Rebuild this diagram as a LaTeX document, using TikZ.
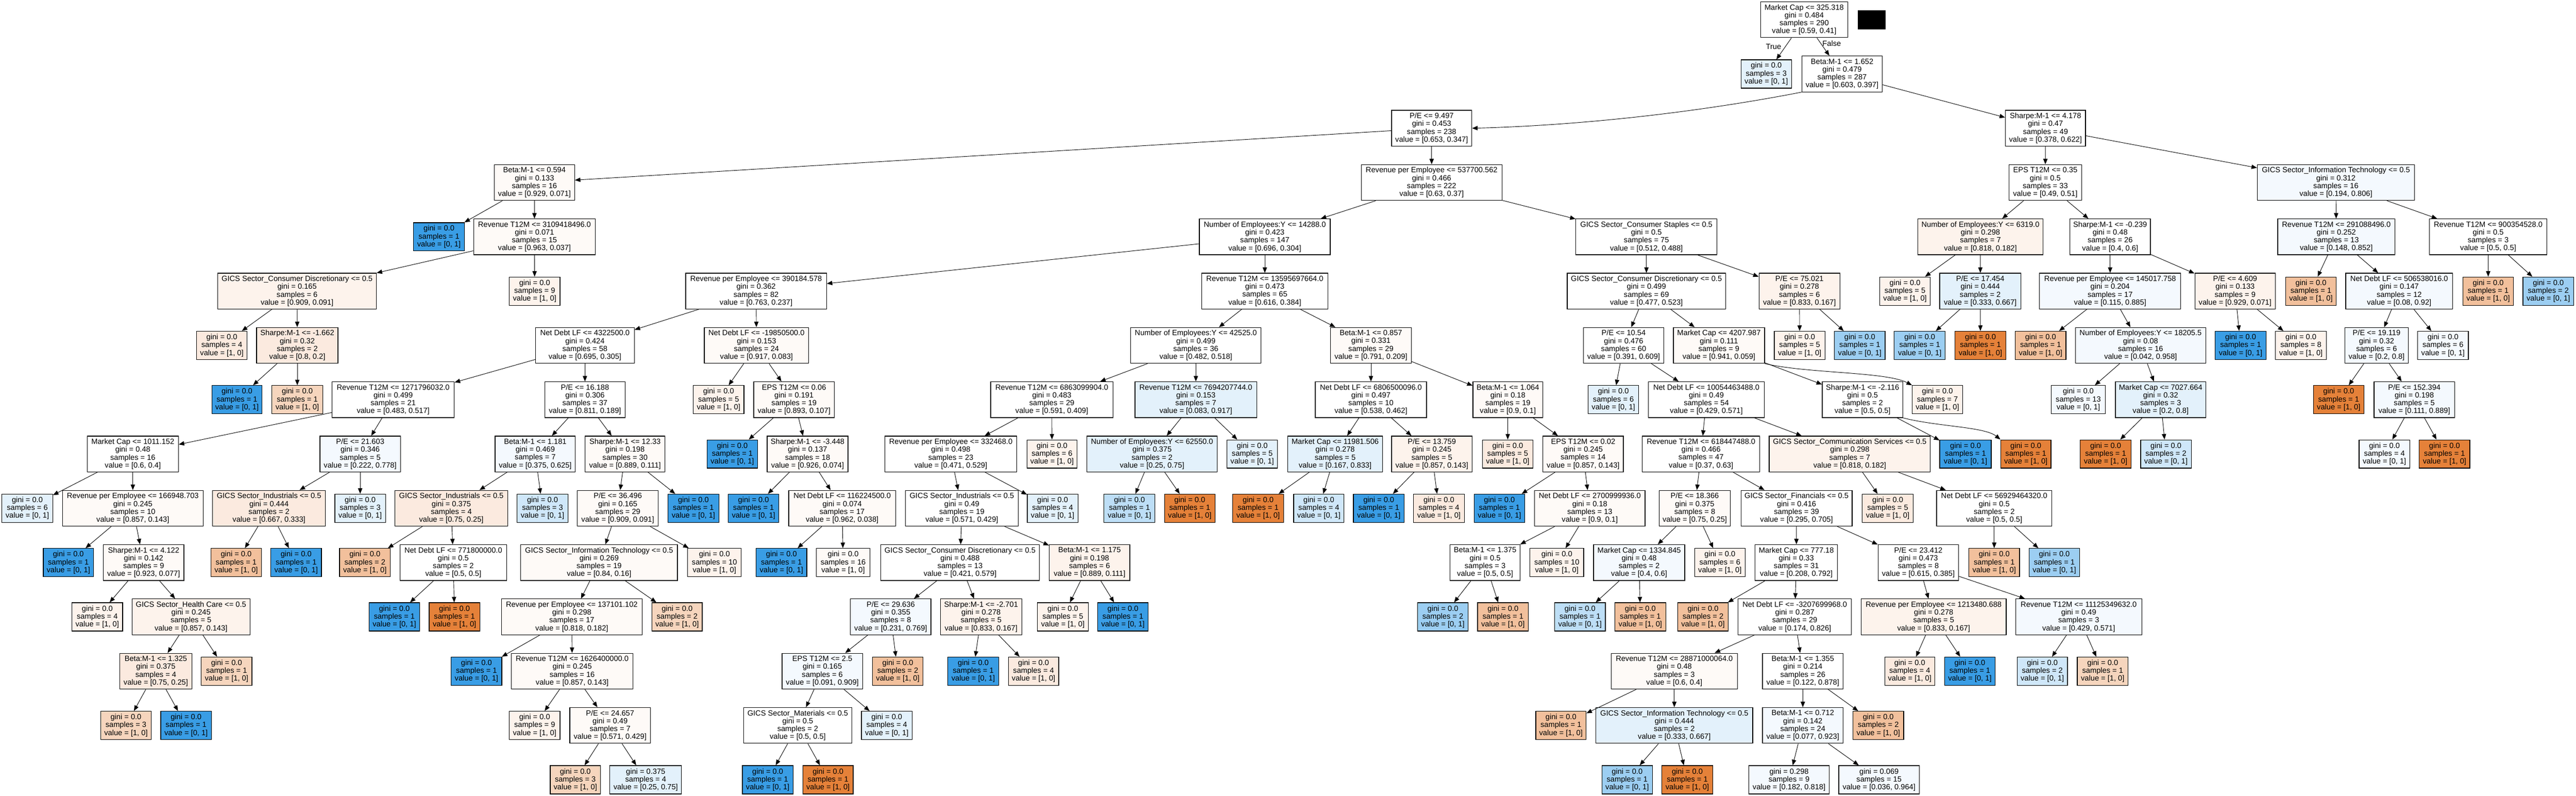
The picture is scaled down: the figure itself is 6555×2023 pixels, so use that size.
\documentclass[tikz,border=0pt]{standalone}
\usepackage{fontspec}
\setmainfont{Liberation Sans}
\usetikzlibrary{arrows.meta}
\definecolor{cw}{HTML}{FFFFFF}
\definecolor{co1}{HTML}{FEFAF7}
\definecolor{co2}{HTML}{FDF3EC}
\definecolor{co3}{HTML}{FBEADF}
\definecolor{co4}{HTML}{F6D5BD}
\definecolor{co5}{HTML}{F2C09C}
\definecolor{co6}{HTML}{E58139}
\definecolor{cb1}{HTML}{F4F9FE}
\definecolor{cb2}{HTML}{E3F1FB}
\definecolor{cb3}{HTML}{CFE7F9}
\definecolor{cb3b}{HTML}{BDDEF6}
\definecolor{cb4}{HTML}{9CCEF2}
\definecolor{cb5}{HTML}{399DE5}
\tikzset{
  tbox/.style={draw=black, line width=0.8pt, rectangle, align=center, inner xsep=3pt, inner ysep=0pt, font=\fontsize{9.6}{10}\selectfont},
  tinner/.style={tbox, minimum height=45.5pt},
  tleaf/.style={tbox, minimum height=36pt},
  tconn/.style={draw=black, line width=0.6pt, -{Triangle[length=7pt,width=5.5pt]}},
  tlabel/.style={font=\fontsize{9.6}{10}\selectfont, inner sep=0pt}
}
\newcommand\TNode[9]{\node[tinner,fill=#5,minimum width={#4*0.5pt}] (#1) at (#2,{50+138.06*#3}) {#6\\gini = #7\\samples = #8\\value = [#9]};}
\newcommand\TLeaf[8]{\node[tleaf,fill=#5,minimum width={#4*0.5pt}] (#1) at (#2,{50+138.06*#3}) {gini = #6\\samples = #7\\value = [#8]};}
\begin{document}
\begin{tikzpicture}[x=0.5pt,y=-0.5pt]
\useasboundingbox (0,0) rectangle (6555,2023);
\fill[white] (0,0) rectangle (6555,2023);
% level 0
\TNode{n0}{4591}{0}{222}{cw}{Market Cap <= 325.318}{0.484}{290}{0.59, 0.41}
\node[fill=black, inner sep=0pt, minimum width=35.5pt, minimum height=24.5pt] (redact) at (4762.5,50.5) {};
% level 1
\TLeaf{n1}{4494.5}{1}{129}{cb2}{0.0}{3}{0, 1}
\TNode{n2}{4687.5}{1}{205}{cw}{Beta:M-1 <= 1.652}{0.479}{287}{0.603, 0.397}
\node[tlabel] (lblTrue) at (4513,119) {True};
\node[tlabel] (lblFalse) at (4661,110) {False};
% level 2
\TNode{n3}{3643}{2}{204}{cw}{P/E <= 9.497}{0.453}{238}{0.653, 0.347}
\TNode{n4}{5205}{2}{204}{cw}{Sharpe:M-1 <= 4.178}{0.47}{49}{0.378, 0.622}
% level 3
\TNode{n5}{1360}{3}{204}{co1}{Beta:M-1 <= 0.594}{0.133}{16}{0.929, 0.071}
\TNode{n6}{3643}{3}{358}{cw}{Revenue per Employee <= 537700.562}{0.466}{222}{0.63, 0.37}
\TNode{n7}{5204.5}{3}{185}{cw}{EPS T12M <= 0.35}{0.5}{33}{0.49, 0.51}
\TNode{n8}{5944}{3}{400}{cb1}{GICS Sector\_Information Technology <= 0.5}{0.312}{16}{0.194, 0.806}
% level 4
\TLeaf{n9}{1117}{4}{130}{cb5}{0.0}{1}{0, 1}
\TNode{n10}{1360}{4}{310}{co1}{Revenue T12M <= 3109418496.0}{0.071}{15}{0.963, 0.037}
\TNode{n11}{3218.5}{4}{333}{cw}{Number of Employees:Y <= 14288.0}{0.423}{147}{0.696, 0.304}
\TNode{n12}{4189.5}{4}{359}{cw}{GICS Sector\_Consumer Staples <= 0.5}{0.5}{75}{0.512, 0.488}
\TNode{n13}{5039.5}{4}{319}{co2}{Number of Employees:Y <= 6319.0}{0.298}{7}{0.818, 0.182}
\TNode{n14}{5369.5}{4}{205}{cw}{Sharpe:M-1 <= -0.239}{0.48}{26}{0.4, 0.6}
\TNode{n15}{5945}{4}{298}{cb1}{Revenue T12M <= 291088496.0}{0.252}{13}{0.148, 0.852}
\TNode{n16}{6331.5}{4}{299}{cw}{Revenue T12M <= 900354528.0}{0.5}{3}{0.5, 0.5}
% level 5
\TNode{n17}{756}{5}{404}{co2}{GICS Sector\_Consumer Discretionary <= 0.5}{0.165}{6}{0.909, 0.091}
\TLeaf{n18}{1360.5}{5}{129}{co2}{0.0}{9}{1, 0}
\TNode{n19}{1924}{5}{358}{cw}{Revenue per Employee <= 390184.578}{0.362}{82}{0.763, 0.237}
\TNode{n20}{3218.5}{5}{321}{cw}{Revenue T12M <= 13595697664.0}{0.473}{65}{0.616, 0.384}
\TNode{n21}{4189.5}{5}{403}{cw}{GICS Sector\_Consumer Discretionary <= 0.5}{0.499}{69}{0.477, 0.523}
\TNode{n22}{4579}{5}{206}{co2}{P/E <= 75.021}{0.278}{6}{0.833, 0.167}
\TLeaf{n23}{4847.5}{5}{129}{co2}{0.0}{5}{1, 0}
\TNode{n24}{5039}{5}{206}{cb2}{P/E <= 17.454}{0.444}{2}{0.333, 0.667}
\TNode{n25}{5369.5}{5}{359}{cb1}{Revenue per Employee <= 145017.758}{0.204}{17}{0.115, 0.885}
\TNode{n26}{5687.5}{5}{205}{co2}{P/E <= 4.609}{0.133}{9}{0.929, 0.071}
\TLeaf{n27}{5880.5}{5}{129}{co5}{0.0}{1}{1, 0}
\TNode{n28}{6105}{5}{272}{cb1}{Net Debt LF <= 506538016.0}{0.147}{12}{0.08, 0.92}
\TLeaf{n29}{6331.5}{5}{129}{co5}{0.0}{1}{1, 0}
\TLeaf{n30}{6484.5}{5}{129}{cb4}{0.0}{2}{0, 1}
% level 6
\TLeaf{n31}{564.5}{6}{129}{co3}{0.0}{4}{1, 0}
\TNode{n32}{756.5}{6}{207}{co3}{Sharpe:M-1 <= -1.662}{0.32}{2}{0.8, 0.2}
\TNode{n33}{1488.5}{6}{251}{cw}{Net Debt LF <= 4322500.0}{0.424}{58}{0.695, 0.305}
\TNode{n34}{1925}{6}{266}{co1}{Net Debt LF <= -19850500.0}{0.153}{24}{0.917, 0.083}
\TNode{n35}{3043}{6}{332}{cw}{Number of Employees:Y <= 42525.0}{0.499}{36}{0.482, 0.518}
\TNode{n36}{3488.5}{6}{205}{co1}{Beta:M-1 <= 0.857}{0.331}{29}{0.791, 0.209}
\TNode{n37}{4131.5}{6}{205}{cw}{P/E <= 10.54}{0.476}{60}{0.391, 0.609}
\TNode{n38}{4374}{6}{232}{co1}{Market Cap <= 4207.987}{0.111}{9}{0.941, 0.059}
\TLeaf{n39}{4579.5}{6}{129}{co2}{0.0}{5}{1, 0}
\TLeaf{n40}{4732.5}{6}{129}{cb4}{0.0}{1}{0, 1}
\TLeaf{n41}{4885}{6}{130}{cb4}{0.0}{1}{0, 1}
\TLeaf{n42}{5039.5}{6}{129}{co6}{0.0}{1}{1, 0}
\TLeaf{n43}{5192.5}{6}{129}{co5}{0.0}{1}{1, 0}
\TNode{n44}{5447}{6}{332}{cb1}{Number of Employees:Y <= 18205.5}{0.08}{16}{0.042, 0.958}
\TLeaf{n45}{5701.5}{6}{129}{cb5}{0.0}{1}{0, 1}
\TLeaf{n46}{5855}{6}{130}{co2}{0.0}{8}{1, 0}
\TNode{n47}{6047.5}{6}{161}{cb1}{P/E <= 19.119}{0.32}{6}{0.2, 0.8}
\TLeaf{n48}{6216.5}{6}{129}{cb1}{0.0}{6}{0, 1}
% level 7
\TLeaf{n49}{603}{7}{128}{cb5}{0.0}{1}{0, 1}
\TLeaf{n50}{756.5}{7}{129}{co4}{0.0}{1}{1, 0}
\TNode{n51}{1000.5}{7}{311}{cw}{Revenue T12M <= 1271796032.0}{0.499}{21}{0.483, 0.517}
\TNode{n52}{1488.5}{7}{205}{cw}{P/E <= 16.188}{0.306}{37}{0.811, 0.189}
\TLeaf{n53}{1828.5}{7}{129}{co2}{0.0}{5}{1, 0}
\TNode{n54}{2020.5}{7}{205}{co1}{EPS T12M <= 0.06}{0.191}{19}{0.893, 0.107}
\TNode{n55}{2676.5}{7}{311}{cw}{Revenue T12M <= 6863099904.0}{0.483}{29}{0.591, 0.409}
\TNode{n56}{3043}{7}{310}{cb2}{Revenue T12M <= 7694207744.0}{0.153}{7}{0.083, 0.917}
\TNode{n57}{3488.5}{7}{283}{cw}{Net Debt LF <= 6806500096.0}{0.497}{10}{0.538, 0.462}
\TNode{n58}{3837}{7}{178}{co1}{Beta:M-1 <= 1.064}{0.18}{19}{0.9, 0.1}
\TLeaf{n59}{4105.5}{7}{129}{cb2}{0.0}{6}{0, 1}
\TNode{n60}{4342}{7}{294}{cw}{Net Debt LF <= 10054463488.0}{0.49}{54}{0.429, 0.571}
\TNode{n61}{4739.5}{7}{205}{cw}{Sharpe:M-1 <= -2.116}{0.5}{2}{0.5, 0.5}
\TLeaf{n62}{4930}{7}{128}{co2}{0.0}{7}{1, 0}
\TLeaf{n63}{5288.5}{7}{137}{cb1}{0.0}{13}{0, 1}
\TNode{n64}{5498}{7}{230}{cb2}{Market Cap <= 7027.664}{0.32}{3}{0.2, 0.8}
\TLeaf{n65}{5951}{7}{128}{co6}{0.0}{1}{1, 0}
\TNode{n66}{6143.5}{7}{205}{cb1}{P/E <= 152.394}{0.198}{5}{0.111, 0.889}
% level 8
\TNode{n67}{338}{8}{232}{cw}{Market Cap <= 1011.152}{0.48}{16}{0.6, 0.4}
\TNode{n68}{916.5}{8}{205}{cb1}{P/E <= 21.603}{0.346}{5}{0.222, 0.778}
\TNode{n69}{1362}{8}{204}{cb1}{Beta:M-1 <= 1.181}{0.469}{7}{0.375, 0.625}
\TNode{n70}{1590.5}{8}{203}{co1}{Sharpe:M-1 <= 12.33}{0.198}{30}{0.889, 0.111}
\TLeaf{n71}{1863.5}{8}{129}{cb5}{0.0}{1}{0, 1}
\TNode{n72}{2055}{8}{206}{co1}{Sharpe:M-1 <= -3.448}{0.137}{18}{0.926, 0.074}
\TNode{n73}{2419.5}{8}{335}{cw}{Revenue per Employee <= 332468.0}{0.498}{23}{0.471, 0.529}
\TLeaf{n74}{2677}{8}{128}{co2}{0.0}{6}{1, 0}
\TNode{n75}{2931.5}{8}{331}{cb2}{Number of Employees:Y <= 62550.0}{0.375}{2}{0.25, 0.75}
\TLeaf{n76}{3186.5}{8}{129}{cb2}{0.0}{5}{0, 1}
\TNode{n77}{3397.5}{8}{241}{cb2}{Market Cap <= 11981.506}{0.278}{5}{0.167, 0.833}
\TNode{n78}{3643.5}{8}{205}{co2}{P/E <= 13.759}{0.245}{5}{0.857, 0.143}
\TLeaf{n79}{3836.5}{8}{129}{co3}{0.0}{5}{1, 0}
\TNode{n80}{4028.5}{8}{205}{co1}{EPS T12M <= 0.02}{0.245}{14}{0.857, 0.143}
\TNode{n81}{4328.5}{8}{299}{cw}{Revenue T12M <= 618447488.0}{0.466}{47}{0.37, 0.63}
\TNode{n82}{4707}{8}{410}{co2}{GICS Sector\_Communication Services <= 0.5}{0.298}{7}{0.818, 0.182}
\TLeaf{n83}{5001.5}{8}{131}{cb5}{0.0}{1}{0, 1}
\TLeaf{n84}{5155}{8}{128}{co6}{0.0}{1}{1, 0}
\TLeaf{n85}{5358}{8}{130}{co6}{0.0}{1}{1, 0}
\TLeaf{n86}{5511.5}{8}{129}{cb3}{0.0}{2}{0, 1}
\TLeaf{n87}{6067.5}{8}{129}{cb1}{0.0}{4}{0, 1}
\TLeaf{n88}{6220.5}{8}{129}{co6}{0.0}{1}{1, 0}
% level 9
\TLeaf{n89}{69.5}{9}{129}{cb2}{0.0}{6}{0, 1}
\TNode{n90}{338}{9}{358}{co1}{Revenue per Employee <= 166948.703}{0.245}{10}{0.857, 0.143}
\TNode{n91}{684.5}{9}{287}{co3}{GICS Sector\_Industrials <= 0.5}{0.444}{2}{0.667, 0.333}
\TLeaf{n92}{916.5}{9}{129}{cb2}{0.0}{3}{0, 1}
\TNode{n93}{1148.5}{9}{287}{co3}{GICS Sector\_Industrials <= 0.5}{0.375}{4}{0.75, 0.25}
\TLeaf{n94}{1380.5}{9}{129}{cb3}{0.0}{3}{0, 1}
\TNode{n95}{1572}{9}{206}{co1}{P/E <= 36.496}{0.165}{29}{0.909, 0.091}
\TLeaf{n96}{1764.5}{9}{129}{cb5}{0.0}{1}{0, 1}
\TLeaf{n97}{1917.5}{9}{129}{cb5}{0.0}{1}{0, 1}
\TNode{n98}{2143}{9}{272}{co1}{Net Debt LF <= 116224500.0}{0.074}{17}{0.962, 0.038}
\TNode{n99}{2447.5}{9}{287}{cw}{GICS Sector\_Industrials <= 0.5}{0.49}{19}{0.571, 0.429}
\TLeaf{n100}{2678.5}{9}{129}{cb2}{0.0}{4}{0, 1}
\TLeaf{n101}{2874}{9}{130}{cb3b}{0.0}{1}{0, 1}
\TLeaf{n102}{3027.5}{9}{129}{co6}{0.0}{1}{1, 0}
\TLeaf{n103}{3201.5}{9}{129}{co6}{0.0}{1}{1, 0}
\TLeaf{n104}{3356}{9}{128}{cb3}{0.0}{4}{0, 1}
\TLeaf{n105}{3508.5}{9}{129}{cb5}{0.0}{1}{0, 1}
\TLeaf{n106}{3661.5}{9}{129}{co3}{0.0}{4}{1, 0}
\TLeaf{n107}{3815.5}{9}{129}{cb5}{0.0}{1}{0, 1}
\TNode{n108}{4045.5}{9}{281}{co1}{Net Debt LF <= 2700999936.0}{0.18}{13}{0.9, 0.1}
\TNode{n109}{4312.5}{9}{181}{co1}{P/E <= 18.366}{0.375}{8}{0.75, 0.25}
\TNode{n110}{4571.5}{9}{283}{cw}{GICS Sector\_Financials <= 0.5}{0.416}{39}{0.295, 0.705}
\TLeaf{n111}{4803.5}{9}{129}{co3}{0.0}{5}{1, 0}
\TNode{n112}{5074.5}{9}{293}{cw}{Net Debt LF <= 56929464320.0}{0.5}{2}{0.5, 0.5}
% level 10
\TLeaf{n113}{174}{10}{128}{cb5}{0.0}{1}{0, 1}
\TNode{n114}{365.5}{10}{205}{co1}{Sharpe:M-1 <= 4.122}{0.142}{9}{0.923, 0.077}
\TLeaf{n115}{601}{10}{128}{co5}{0.0}{1}{1, 0}
\TLeaf{n116}{753.5}{10}{129}{cb5}{0.0}{1}{0, 1}
\TLeaf{n117}{928.5}{10}{129}{co5}{0.0}{2}{1, 0}
\TNode{n118}{1153.5}{10}{271}{cw}{Net Debt LF <= 771800000.0}{0.5}{2}{0.5, 0.5}
\TNode{n119}{1524.5}{10}{399}{co1}{GICS Sector\_Information Technology <= 0.5}{0.269}{19}{0.84, 0.16}
\TLeaf{n120}{1818}{10}{136}{co2}{0.0}{10}{1, 0}
\TLeaf{n121}{1988.5}{10}{129}{cb5}{0.0}{1}{0, 1}
\TLeaf{n122}{2145.5}{10}{137}{co1}{0.0}{16}{1, 0}
\TNode{n123}{2443}{10}{404}{cw}{GICS Sector\_Consumer Discretionary <= 0.5}{0.488}{13}{0.421, 0.579}
\TNode{n124}{2772.5}{10}{205}{co2}{Beta:M-1 <= 1.175}{0.198}{6}{0.889, 0.111}
\TNode{n125}{3779}{10}{178}{cw}{Beta:M-1 <= 1.375}{0.5}{3}{0.5, 0.5}
\TLeaf{n126}{3961.5}{10}{137}{co2}{0.0}{10}{1, 0}
\TNode{n127}{4171}{10}{232}{cb1}{Market Cap <= 1334.845}{0.48}{2}{0.4, 0.6}
\TLeaf{n128}{4376.5}{10}{129}{co2}{0.0}{6}{1, 0}
\TNode{n129}{4571}{10}{210}{cw}{Market Cap <= 777.18}{0.33}{31}{0.208, 0.792}
\TNode{n130}{4881.5}{10}{205}{cw}{P/E <= 23.412}{0.473}{8}{0.615, 0.385}
\TLeaf{n131}{5074.5}{10}{129}{co5}{0.0}{1}{1, 0}
\TLeaf{n132}{5227.5}{10}{129}{cb4}{0.0}{1}{0, 1}
% level 11
\TLeaf{n133}{247.5}{11}{129}{co2}{0.0}{4}{1, 0}
\TNode{n134}{486}{11}{300}{co2}{GICS Sector\_Health Care <= 0.5}{0.245}{5}{0.857, 0.143}
\TLeaf{n135}{1003.5}{11}{129}{cb5}{0.0}{1}{0, 1}
\TLeaf{n136}{1156.5}{11}{129}{co6}{0.0}{1}{1, 0}
\TNode{n137}{1455}{11}{358}{co1}{Revenue per Employee <= 137101.102}{0.298}{17}{0.818, 0.182}
\TLeaf{n138}{1723}{11}{128}{co4}{0.0}{2}{1, 0}
\TNode{n139}{2266.5}{11}{205}{cb1}{P/E <= 29.636}{0.355}{8}{0.231, 0.769}
\TNode{n140}{2496.5}{11}{207}{co2}{Sharpe:M-1 <= -2.701}{0.278}{5}{0.833, 0.167}
\TLeaf{n141}{2704.5}{11}{129}{co2}{0.0}{5}{1, 0}
\TLeaf{n142}{2857.5}{11}{129}{cb5}{0.0}{1}{0, 1}
\TLeaf{n143}{3671.5}{11}{129}{cb4}{0.0}{2}{0, 1}
\TLeaf{n144}{3824.5}{11}{129}{co5}{0.0}{1}{1, 0}
\TLeaf{n145}{4020.5}{11}{129}{cb3b}{0.0}{1}{0, 1}
\TLeaf{n146}{4174}{11}{130}{co5}{0.0}{1}{1, 0}
\TLeaf{n147}{4333.5}{11}{129}{co5}{0.0}{2}{1, 0}
\TNode{n148}{4567}{11}{288}{cw}{Net Debt LF <= -3207699968.0}{0.287}{29}{0.174, 0.826}
\TNode{n149}{4920.5}{11}{369}{co2}{Revenue per Employee <= 1213480.688}{0.278}{5}{0.833, 0.167}
\TNode{n150}{5289.5}{11}{321}{cb1}{Revenue T12M <= 11125349632.0}{0.49}{3}{0.429, 0.571}
% level 12
\TNode{n151}{396.5}{12}{183}{co3}{Beta:M-1 <= 1.325}{0.375}{4}{0.75, 0.25}
\TLeaf{n152}{576.5}{12}{129}{co4}{0.0}{1}{1, 0}
\TLeaf{n153}{1212.5}{12}{129}{cb5}{0.0}{1}{0, 1}
\TNode{n154}{1456}{12}{310}{co1}{Revenue T12M <= 1626400000.0}{0.245}{16}{0.857, 0.143}
\TNode{n155}{2092.5}{12}{205}{cb1}{EPS T12M <= 2.5}{0.165}{6}{0.091, 0.909}
\TLeaf{n156}{2284.5}{12}{129}{co5}{0.0}{2}{1, 0}
\TLeaf{n157}{2476.5}{12}{129}{cb5}{0.0}{1}{0, 1}
\TLeaf{n158}{2630}{12}{128}{co3}{0.0}{4}{1, 0}
\TNode{n159}{4260.5}{12}{321}{co1}{Revenue T12M <= 28871000064.0}{0.48}{3}{0.6, 0.4}
\TNode{n160}{4587.5}{12}{205}{cw}{Beta:M-1 <= 1.355}{0.214}{26}{0.122, 0.878}
\TLeaf{n161}{4859.5}{12}{127}{co3}{0.0}{4}{1, 0}
\TLeaf{n162}{5012.5}{12}{129}{cb5}{0.0}{1}{0, 1}
\TLeaf{n163}{5197}{12}{128}{cb3}{0.0}{2}{0, 1}
\TLeaf{n164}{5350.5}{12}{129}{co4}{0.0}{1}{1, 0}
% level 13
\TLeaf{n165}{320.5}{13}{129}{co4}{0.0}{3}{1, 0}
\TLeaf{n166}{473.5}{13}{129}{cb5}{0.0}{1}{0, 1}
\TLeaf{n167}{1360.5}{13}{129}{co2}{0.0}{9}{1, 0}
\TNode{n168}{1552.5}{13}{205}{co1}{P/E <= 24.657}{0.49}{7}{0.571, 0.429}
\TNode{n169}{2030}{13}{276}{cw}{GICS Sector\_Materials <= 0.5}{0.5}{2}{0.5, 0.5}
\TLeaf{n170}{2256.5}{13}{129}{cb2}{0.0}{4}{0, 1}
\TLeaf{n171}{3972}{13}{128}{co5}{0.0}{1}{1, 0}
\TNode{n172}{4260.5}{13}{399}{cb2}{GICS Sector\_Information Technology <= 0.5}{0.444}{2}{0.333, 0.667}
\TNode{n173}{4587.5}{13}{205}{cb1}{Beta:M-1 <= 0.712}{0.142}{24}{0.077, 0.923}
\TLeaf{n174}{4779.5}{13}{129}{co5}{0.0}{2}{1, 0}
% level 14
\TLeaf{n175}{1464}{14}{128}{co4}{0.0}{3}{1, 0}
\TLeaf{n176}{1643}{14}{182}{cb2}{0.375}{4}{0.25, 0.75}
\TLeaf{n177}{1953.5}{14}{129}{cb5}{0.0}{1}{0, 1}
\TLeaf{n178}{2107}{14}{128}{co6}{0.0}{1}{1, 0}
\TLeaf{n179}{4140.5}{14}{129}{cb4}{0.0}{1}{0, 1}
\TLeaf{n180}{4293.5}{14}{129}{co6}{0.0}{1}{1, 0}
\TLeaf{n181}{4552.5}{14}{205}{cb1}{0.298}{9}{0.182, 0.818}
\TLeaf{n182}{4781.5}{14}{205}{cb1}{0.069}{15}{0.036, 0.964}
% connectors
\foreach \a/\b in {n0/n1,n0/n2,n2/n4,n3/n5,n3/n6,n4/n7,n4/n8,n5/n9,n5/n10,n6/n11,n6/n12,n7/n13,n7/n14,n8/n15,n8/n16,
n10/n17,n10/n18,n11/n19,n11/n20,n12/n21,n12/n22,n13/n23,n13/n24,n14/n25,n14/n26,n15/n27,n15/n28,n16/n29,n16/n30,
n17/n31,n17/n32,n19/n33,n19/n34,n20/n35,n20/n36,n21/n37,n21/n38,n22/n39,n22/n40,n24/n41,n24/n42,n25/n43,n25/n44,n26/n45,n26/n46,n28/n47,n28/n48,
n32/n49,n32/n50,n33/n51,n33/n52,n34/n53,n34/n54,n35/n55,n35/n56,n36/n57,n36/n58,n37/n59,n37/n60,n38/n61,n44/n63,n44/n64,n47/n65,n47/n66,
n51/n67,n51/n68,n52/n69,n52/n70,n54/n71,n54/n72,n55/n73,n55/n74,n56/n75,n56/n76,n57/n77,n57/n78,n58/n79,n58/n80,n60/n81,n60/n82,n61/n83,n64/n85,n64/n86,n66/n87,n66/n88,
n67/n89,n67/n90,n68/n91,n68/n92,n69/n93,n69/n94,n70/n95,n70/n96,n72/n97,n72/n98,n73/n99,n73/n100,n75/n101,n75/n102,n77/n103,n77/n104,n78/n105,n78/n106,n80/n107,n80/n108,n81/n109,n81/n110,n82/n111,n82/n112,
n90/n113,n90/n114,n91/n115,n91/n116,n93/n117,n93/n118,n95/n119,n95/n120,n98/n121,n98/n122,n99/n123,n99/n124,n108/n125,n108/n126,n109/n127,n109/n128,n110/n129,n110/n130,n112/n131,n112/n132,
n114/n133,n114/n134,n118/n135,n118/n136,n119/n137,n119/n138,n123/n139,n123/n140,n124/n141,n124/n142,n125/n143,n125/n144,n127/n145,n127/n146,n129/n147,n129/n148,n130/n149,n130/n150,
n134/n151,n134/n152,n137/n153,n137/n154,n139/n155,n139/n156,n140/n157,n140/n158,n148/n159,n148/n160,n149/n161,n149/n162,n150/n163,n150/n164,
n151/n165,n151/n166,n154/n167,n154/n168,n155/n169,n155/n170,n159/n171,n159/n172,n160/n173,n160/n174,
n168/n175,n168/n176,n169/n177,n169/n178,n172/n179,n172/n180,n173/n181,n173/n182}
  {\draw[tconn] (\a) -- (\b);}
\draw[tconn] (n2.south west) .. controls (4350,280) and (4050,318) .. (n3.east);
\draw[tconn] (n38.south east) .. controls (4600,950) and (4800,945) .. (n62.north west);
\draw[tconn] (n61.south east) .. controls (4930,1085) and (5050,1085) .. (n84.north west);
\end{tikzpicture}
\end{document}
